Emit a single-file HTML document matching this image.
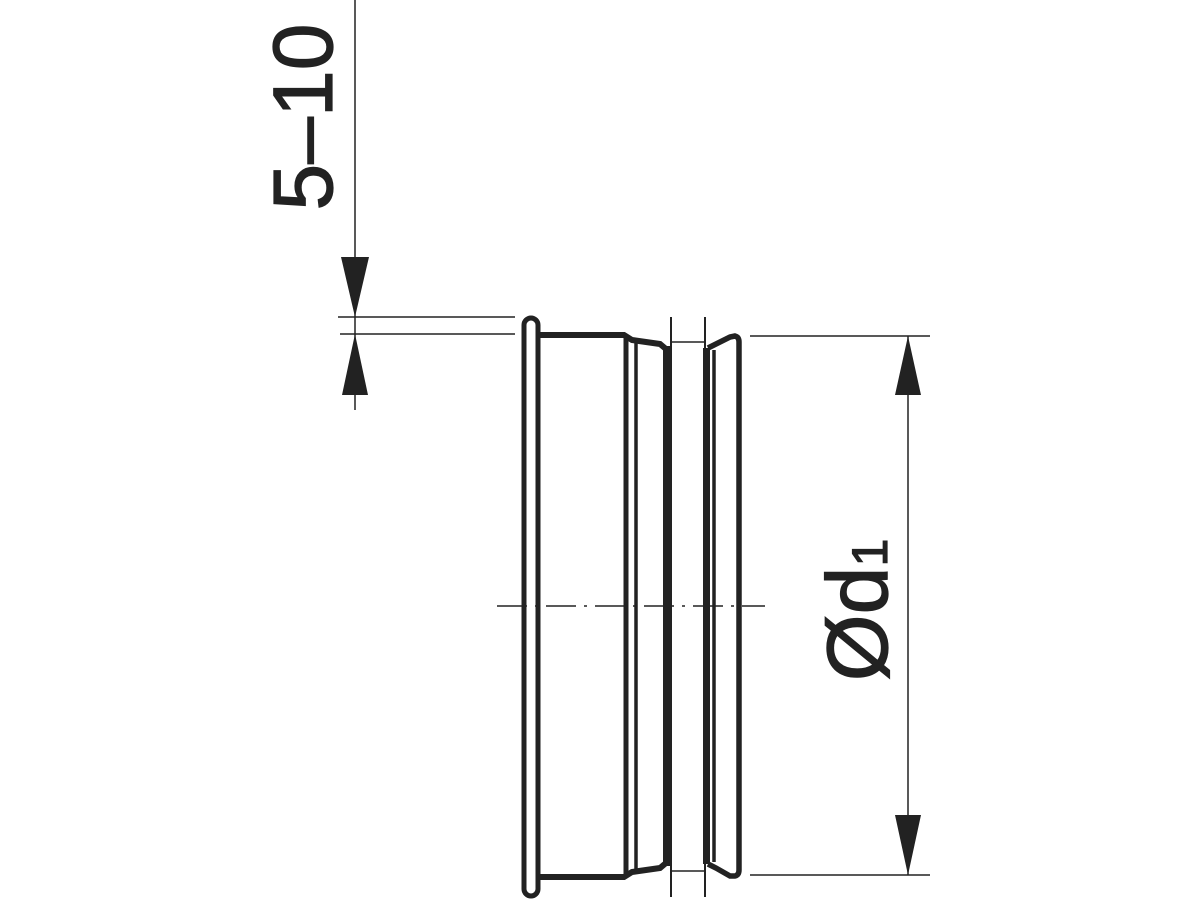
<!DOCTYPE html>
<html><head><style>html,body{margin:0;padding:0;background:#fff}svg{display:block}</style></head>
<body>
<svg width="1200" height="900" viewBox="0 0 1200 900" xmlns="http://www.w3.org/2000/svg">
<g stroke="#222" fill="none" stroke-linecap="butt">
<line x1="355" y1="0" x2="355" y2="410" stroke-width="1.5"/>
<line x1="338" y1="317" x2="515" y2="317" stroke-width="1.5"/>
<line x1="340" y1="334" x2="515" y2="334" stroke-width="1.5"/>
<line x1="750" y1="336" x2="930" y2="336" stroke-width="1.5"/>
<line x1="750" y1="875" x2="930" y2="875" stroke-width="1.5"/>
<line x1="908" y1="336" x2="908" y2="875" stroke-width="1.5"/>
<line x1="497" y1="606" x2="765" y2="606" stroke-width="1.5" stroke-dasharray="30,8,3,8"/>
<rect x="524" y="318" width="14" height="578" rx="7" stroke-width="5"/>
<path d="M538 335 H624 L632 340 L660 344 L666 349" stroke-width="6"/>
<path d="M538 877 H624 L632 872 L660 868 L666 863" stroke-width="6"/>
<line x1="626" y1="337" x2="626" y2="876" stroke-width="5"/>
<line x1="636" y1="342" x2="636" y2="870" stroke-width="3.5"/>
<rect x="663" y="346" width="9" height="520" fill="#222" stroke="none"/>
<line x1="671" y1="317" x2="671" y2="897" stroke-width="2"/>
<line x1="705" y1="317" x2="705" y2="897" stroke-width="2"/>
<line x1="672" y1="342" x2="705" y2="342" stroke-width="1.5"/>
<line x1="672" y1="871" x2="705" y2="871" stroke-width="1.5"/>
<rect x="703" y="348" width="7" height="516" fill="#222" stroke="none"/>
<line x1="714" y1="350" x2="714" y2="862" stroke-width="3.5"/>
<path d="M708 348 L716 344 L730 337 L735 336 Q739 337 739 342 V870 Q739 875 735 876 L730 876 L716 868 L708 864" stroke-width="5.5"/>
</g>
<g fill="#222">
<polygon points="341,257 369,257 355,317"/>
<polygon points="342,395 368,395 355,334"/>
<polygon points="895,395 921,395 908,336"/>
<polygon points="895,815 921,815 908,875"/>
</g>
<g font-family="Liberation Sans, sans-serif" fill="#222" stroke="#222" stroke-width="1.2">
<text transform="translate(332,117) rotate(-90)" font-size="84" text-anchor="middle">5–10</text>
<text transform="translate(887,610) rotate(-90)" font-size="86" text-anchor="middle">Ød<tspan font-size="50">1</tspan></text>
</g>
</svg>
</body></html>
